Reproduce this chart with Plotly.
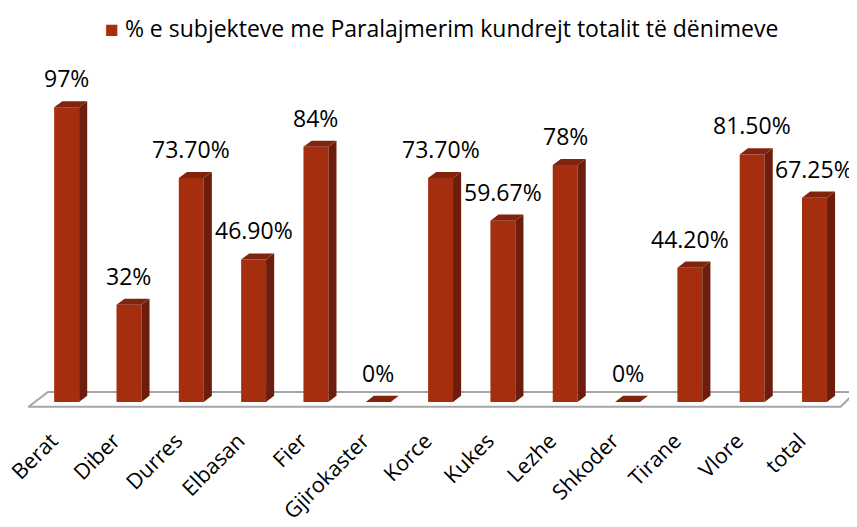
import plotly.graph_objects as go

# dati
qarqet = ["Berat", "Diber", "Durres", "Elbasan", "Fier", "Gjirokaster", "Korce",
          "Kukes", "Lezhe", "Shkoder", "Tirane", "Vlore", "total"]
perqindje = [97, 32, 73.7, 46.9, 84, 0, 73.7, 59.67, 78, 0, 44.2, 81.5, 67.25]
etiketat = ["97%", "32%", "73.70%", "46.90%", "84%", "0%", "73.70%", "59.67%",
            "78%", "0%", "44.20%", "81.50%", "67.25%"]
seria = "% e subjekteve me Paralajmerim kundrejt totalit të dënimeve"

FONT = "Open Sans"
C_FRONT = "#A52E0F"
C_SIDE = "#6C1D0B"
C_TOP = "#80240E"

W = 0.4     # larghezza barra
DX = 0.13   # profondita' 3D in x
DY = 2.0    # profondita' 3D in y

x = list(range(len(qarqet)))

fig = go.Figure()

# pavimento
fig.add_shape(type="path",
              path="M -0.61 -1.6 L 12.42 -1.6 L 12.66 3.3 L -0.3 3.3 Z",
              line=dict(color="#A6A6A6", width=2), fillcolor="white", layer="below")

# facce laterali e superiori
for i, v in zip(x, perqindje):
    xr = i + W / 2
    xl = i - W / 2
    if v > 0:
        fig.add_trace(go.Scatter(
            x=[xr, xr + DX, xr + DX, xr, xr], y=[0, DY, v + DY, v, 0],
            fill="toself", fillcolor=C_SIDE, mode="lines", line=dict(width=0),
            showlegend=False, hoverinfo="skip"))
    fig.add_trace(go.Scatter(
        x=[xl, xl + DX, xr + DX, xr, xl], y=[v, v + DY, v + DY, v, v],
        fill="toself", fillcolor=C_TOP, mode="lines", line=dict(width=0),
        showlegend=False, hoverinfo="skip"))

# faccia frontale
fig.add_trace(go.Bar(x=x, y=perqindje, width=W, name=seria, showlegend=False,
                     marker=dict(color=C_FRONT, line=dict(width=0))))

for i, v, t in zip(x, perqindje, etiketat):
    fig.add_annotation(x=i, y=v + DY, text=t, showarrow=False, yanchor="bottom",
                       yshift=5, font=dict(family=FONT, size=23, color="black"))

# legenda
fig.add_annotation(xref="paper", yref="paper", x=0.5, y=1.17, xanchor="center",
                   yanchor="middle", showarrow=False,
                   text=f"<span style='color:{C_FRONT}'>■</span> {seria}",
                   font=dict(family=FONT, size=23, color="black"))

fig.update_layout(
    width=849, height=519,
    margin=dict(l=20, r=2, t=75, b=119, autoexpand=False),
    plot_bgcolor="white", paper_bgcolor="white",
    font=dict(family=FONT, size=20, color="black"),
    showlegend=False,
    xaxis=dict(range=[-0.62, 12.65], tickmode="array", tickvals=x, ticktext=qarqet,
               tickangle=-45, ticks="", ticklabelstandoff=15, ticklabelshift=-15,
               ticklabeloverflow="allow",
               showgrid=False, zeroline=False, showline=False, automargin=False,
               tickfont=dict(family=FONT, size=21.5, color="black")),
    yaxis=dict(range=[-2, 105], visible=False, automargin=False),
)

fig.write_html("out.html")
